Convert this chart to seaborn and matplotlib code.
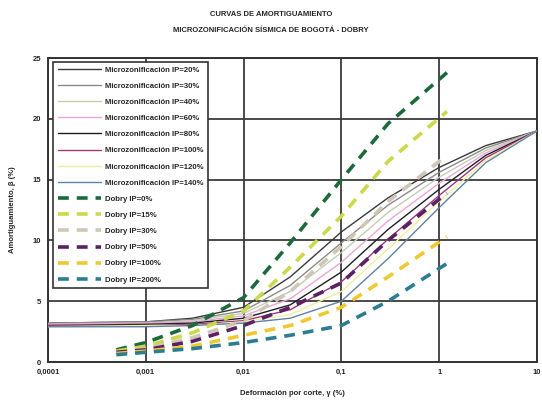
import matplotlib
matplotlib.use("Agg")
import matplotlib.pyplot as plt
import seaborn as sns
import pandas as pd
from matplotlib.ticker import FixedLocator, FixedFormatter, NullLocator

sns.set_theme(style="white")
plt.rcParams['font.family'] = ['Liberation Sans', 'DejaVu Sans']

# Shear strain (%) sampling points
strain_micro = [0.0001, 0.001, 0.003, 0.01, 0.03, 0.1, 0.3, 1, 3, 10]
strain_dobry = [0.0005, 0.001, 0.003, 0.01, 0.03, 0.1, 0.3, 1.2]

# Damping ratio (%) - Microzonificación curves
micro_labels = ["Microzonificación IP=20%", "Microzonificación IP=30%",
                "Microzonificación IP=40%", "Microzonificación IP=60%",
                "Microzonificación IP=80%", "Microzonificación IP=100%",
                "Microzonificación IP=120%", "Microzonificación IP=140%"]
micro_ip20 = [3.2, 3.3, 3.6, 4.5, 7.0, 10.7, 13.5, 16.0, 17.8, 19.0]
micro_ip30 = [3.2, 3.3, 3.5, 4.2, 6.3, 9.8, 12.9, 15.6, 17.6, 19.0]
micro_ip40 = [3.1, 3.2, 3.4, 4.0, 5.8, 9.0, 12.3, 15.2, 17.4, 19.0]
micro_ip60 = [3.1, 3.2, 3.3, 3.8, 5.2, 8.2, 11.6, 14.7, 17.2, 19.0]
micro_ip80 = [3.0, 3.1, 3.2, 3.6, 4.7, 7.4, 10.9, 14.2, 17.0, 19.0]
micro_ip100 = [3.0, 3.0, 3.1, 3.4, 4.3, 6.6, 10.1, 13.7, 16.8, 19.0]
micro_ip120 = [2.9, 3.0, 3.0, 3.3, 3.9, 5.8, 9.3, 13.2, 16.6, 19.0]
micro_ip140 = [2.9, 2.9, 3.0, 3.2, 3.6, 5.0, 8.5, 12.7, 16.4, 19.0]
micro_colors = ["#3a3a3a", "#8a8a8a", "#c4ccb4", "#e8a8d4",
                "#1e1e2a", "#a03878", "#eeeea0", "#5f82a0"]

# Damping ratio (%) - Vucetic & Dobry curves
dobry_labels = ["Dobry IP=0%", "Dobry IP=15%", "Dobry IP=30%",
                "Dobry IP=50%", "Dobry IP=100%", "Dobry IP=200%"]
dobry_ip0 = [1.0, 1.6, 3.0, 5.3, 9.8, 15.0, 19.6, 23.8]
dobry_ip15 = [0.9, 1.3, 2.4, 4.2, 7.8, 12.0, 16.5, 20.6]
dobry_ip30 = [0.8, 1.1, 2.0, 3.4, 5.8, 9.5, 13.2, 17.0]
dobry_ip50 = [0.8, 1.0, 1.7, 3.0, 4.5, 6.5, 10.0, 13.9]
dobry_ip100 = [0.7, 0.9, 1.3, 2.2, 3.0, 4.5, 7.0, 10.3]
dobry_ip200 = [0.6, 0.8, 1.1, 1.6, 2.2, 3.0, 5.0, 8.1]
dobry_colors = ["#1c6a3c", "#cad84a", "#cfc6b6", "#5a2262", "#f0c832", "#2c7c92"]

x_ticks = [0.0001, 0.001, 0.01, 0.1, 1, 10]
x_ticklabels = ["0,0001", "0,001", "0,01", "0,1", "1", "10"]
y_ticks = [0, 5, 10, 15, 20, 25]

fig = plt.figure(figsize=(5.42, 4.11), dpi=100)
ax = fig.add_axes([48 / 542, 1 - 362 / 411, (537 - 48) / 542, (362 - 58) / 411])

micro_series = [micro_ip20, micro_ip30, micro_ip40, micro_ip60,
                micro_ip80, micro_ip100, micro_ip120, micro_ip140]
for lab, vals, col in zip(micro_labels, micro_series, micro_colors):
    df = pd.DataFrame({"strain": strain_micro, "damping": vals})
    sns.lineplot(data=df, x="strain", y="damping", ax=ax, color=col,
                 linewidth=1.0, label=lab, sort=False, zorder=3)

dobry_series = [dobry_ip0, dobry_ip15, dobry_ip30, dobry_ip50, dobry_ip100, dobry_ip200]
for lab, vals, col in zip(dobry_labels, dobry_series, dobry_colors):
    df = pd.DataFrame({"strain": strain_dobry, "damping": vals})
    sns.lineplot(data=df, x="strain", y="damping", ax=ax, color=col,
                 linewidth=2.6, label=lab, sort=False, zorder=4,
                 dashes=False, linestyle=(0, (3, 2.2)))

ax.set_xscale("log")
ax.set_xlim(0.0001, 10)
ax.set_ylim(0, 25)
ax.xaxis.set_major_locator(FixedLocator(x_ticks))
ax.xaxis.set_major_formatter(FixedFormatter(x_ticklabels))
ax.xaxis.set_minor_locator(NullLocator())
ax.set_yticks(y_ticks)
ax.tick_params(axis="both", labelsize=5.5, length=3, width=1.0, color="#333333",
               direction="out", pad=2)
for t in ax.get_xticklabels() + ax.get_yticklabels():
    t.set_fontweight("bold")
ax.grid(True, which="major", color="#3c3c3c", linewidth=1.3, zorder=0)
ax.set_axisbelow(True)
for sp in ax.spines.values():
    sp.set_color("#333333")
    sp.set_linewidth(1.4)

ax.set_xlabel("Deformación por corte, γ (%)", fontsize=5.5, labelpad=10,
              fontweight="bold")
ax.set_ylabel("Amortiguamiento, β (%)", fontsize=5.5, labelpad=12,
              fontweight="bold")

fig.text(0.5, 1 - 14 / 411, "CURVAS DE AMORTIGUAMIENTO", ha="center", va="center",
         fontsize=5.5, fontweight="bold")
fig.text(0.5, 1 - 30 / 411, "MICROZONIFICACIÓN SÍSMICA DE BOGOTÁ - DOBRY",
         ha="center", va="center", fontsize=5.5, fontweight="bold")

leg = ax.legend(loc="upper left", bbox_to_anchor=(0.006, 0.995),
                prop={"size": 5.6, "weight": "bold"},
                frameon=True, fancybox=False, handlelength=5.6, handletextpad=0.5,
                labelspacing=1.12, borderpad=0.55, borderaxespad=0.3)
leg.get_frame().set_edgecolor("#333333")
leg.get_frame().set_linewidth(1.2)
leg.get_frame().set_alpha(1.0)
leg.set_zorder(10)

fig.savefig("out.png", dpi=100)
